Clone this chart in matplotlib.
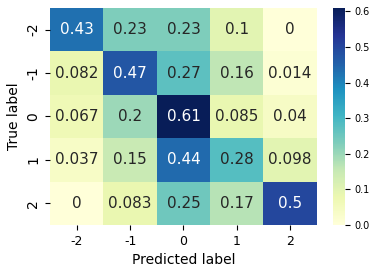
import numpy as np
import matplotlib
matplotlib.use("Agg")
import matplotlib.pyplot as plt
import seaborn as sns

labels = ["-2", "-1", "0", "1", "2"]
cm = np.array([
    [0.43, 0.23, 0.23, 0.1, 0],
    [0.082, 0.47, 0.27, 0.16, 0.014],
    [0.067, 0.2, 0.61, 0.085, 0.04],
    [0.037, 0.15, 0.44, 0.28, 0.098],
    [0, 0.083, 0.25, 0.17, 0.5],
])

fig = plt.figure(figsize=(3.74, 2.73), dpi=100)
ax = fig.add_axes([0.134, 0.176, 0.713, 0.795])
cax = fig.add_axes([0.890, 0.176, 0.032, 0.795])

sns.heatmap(cm, annot=True, fmt="g", cmap="YlGnBu", vmin=0, vmax=cm.max(),
            xticklabels=labels, yticklabels=labels, ax=ax, cbar_ax=cax,
            annot_kws={"size": 11})

ax.set_yticklabels(labels, rotation=90, va="center", fontsize=10)
ax.set_xticklabels(labels, rotation=0, fontsize=9)
ax.set_xlabel("Predicted label", fontsize=10)
ax.set_ylabel("True label", fontsize=10)
cax.tick_params(labelsize=7)
cax.set_yticks([0.0, 0.1, 0.2, 0.3, 0.4, 0.5, 0.6])

fig.savefig("out.png", dpi=100)
